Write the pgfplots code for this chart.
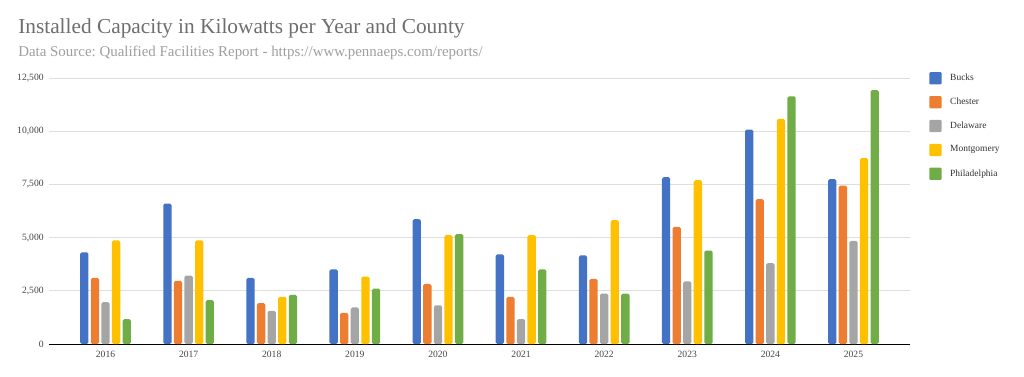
\documentclass[border=0pt]{standalone}
\usepackage{pgfplots}
\pgfplotsset{compat=1.18}
\usepackage{fontspec}
\setmainfont{Liberation Serif}
\frenchspacing
\definecolor{cBucks}{HTML}{4472C4}
\definecolor{cChester}{HTML}{ED7D31}
\definecolor{cDelaware}{HTML}{A5A5A5}
\definecolor{cMont}{HTML}{FFC000}
\definecolor{cPhil}{HTML}{70AD47}
\definecolor{titlegray}{HTML}{6E6E6E}
\definecolor{subgray}{HTML}{9E9E9E}
\definecolor{tickgray}{HTML}{444444}
\begin{document}
\begin{tikzpicture}
\path[use as bounding box] (0pt,0pt) rectangle (768pt,282pt);
\node[anchor=base west, inner sep=0pt, text=titlegray, font=\fontsize{16pt}{18pt}\selectfont] at (18*0.75pt, 342.7*0.75pt) {Installed Capacity in Kilowatts per Year and County};
\node[anchor=base west, inner sep=0pt, text=subgray, font=\fontsize{11.2pt}{13pt}\selectfont] at (18*0.75pt, 319.3*0.75pt) {Data Source: Qualified Facilities Report - https://www.pennaeps.com/reports/};
\begin{axis}[
  at={(49*0.75pt, 32*0.75pt)}, anchor=south west,
  scale only axis, width=861*0.75pt, height=266*0.75pt,
  xmin=-0.68, xmax=9.68, ymin=0, ymax=12500,
  xtick={0,...,9}, xticklabels={2016,2017,2018,2019,2020,2021,2022,2023,2024,2025},
  ytick={0,2500,5000,7500,10000,12500},
  scaled y ticks=false,
  /pgf/number format/fixed, /pgf/number format/1000 sep={,}, /pgf/number format/assume math mode=true,
  ticklabel style={font=\fontsize{7.2pt}{8pt}\selectfont, text=tickgray},
  xtick style={draw=none}, ytick style={draw=none},
  axis x line*=bottom, axis y line*=left,
  x axis line style={-, black, line width=0.75pt},
  y axis line style={draw=none},
  ymajorgrids, grid style={color=black!13, line width=0.6pt},
  xticklabel shift=1.5pt, yticklabel shift=0.5pt,
  legend style={at={(1.0221,1.023)}, anchor=north west, draw=none, fill=none, inner sep=0pt,
    row sep=8.7pt, column sep=6.5pt, font=\fontsize{7.1pt}{8pt}\selectfont, text=black!80,
    nodes={inner sep=0pt}},
  legend cell align=left,
  legend image code/.code={\fill[#1, rounded corners=0.8pt] (0pt,-4.6pt) rectangle (9.2pt,4.6pt);},
]
\addplot[ybar, bar width=0.1, bar shift=-0.255, fill=cBucks, draw=none, rounded corners=1.2pt] coordinates {(0,4306) (1,6599) (2,3104) (3,3510) (4,5866) (5,4212) (6,4165) (7,7837) (8,10080) (9,7743)};
\addlegendentry{Bucks}
\addplot[ybar, bar width=0.1, bar shift=-0.1275, fill=cChester, draw=none, rounded corners=1.2pt] coordinates {(0,3104) (1,2964) (2,1919) (3,1466) (4,2824) (5,2215) (6,3058) (7,5500) (8,6808) (9,7447)};
\addlegendentry{Chester}
\addplot[ybar, bar width=0.1, bar shift=0, fill=cDelaware, draw=none, rounded corners=1.2pt] coordinates {(0,1966) (1,3214) (2,1560) (3,1716) (4,1810) (5,1170) (6,2371) (7,2945) (8,3802) (9,4845)};
\addlegendentry{Delaware}
\addplot[ybar, bar width=0.1, bar shift=0.1275, fill=cMont, draw=none, rounded corners=1.2pt] coordinates {(0,4867) (1,4867) (2,2215) (3,3167) (4,5117) (5,5117) (6,5819) (7,7697) (8,10579) (9,8740)};
\addlegendentry{Montgomery}
\addplot[ybar, bar width=0.1, bar shift=0.255, fill=cPhil, draw=none, rounded corners=1.2pt] coordinates {(0,1170) (1,2059) (2,2309) (3,2605) (4,5164) (5,3510) (6,2371) (7,4394) (8,11638) (9,11934)};
\addlegendentry{Philadelphia}
\end{axis}
\end{tikzpicture}
\end{document}
